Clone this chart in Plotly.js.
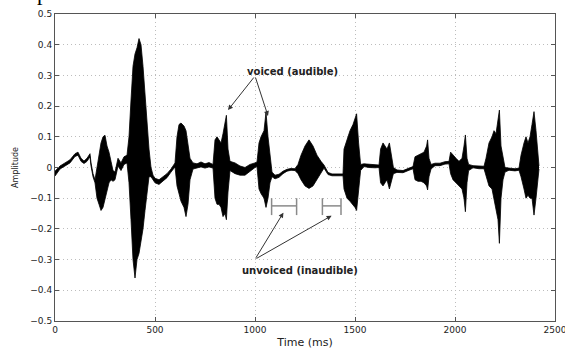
<!DOCTYPE html>
<html>
<head>
<meta charset="utf-8">
<script src="https://cdn.plot.ly/plotly-3.0.1.min.js"></script>
<style>html,body{margin:0;padding:0;background:#fff;}#chart{width:565px;height:351px;}</style>
</head>
<body>
<div id="chart"></div>
<script>
// Time axis (ms) and waveform envelope
const timeMs = [
  0,10,25,50,75,100,115,130,145,160,175,180,190,200,
  210,220,230,240,250,260,270,280,290,300,315,330,345,360,
  370,380,390,400,410,420,430,440,450,460,470,480,490,500,520,540,560,580,600,
  610,620,630,645,655,665,675,690,710,730,750,770,790,
  800,810,820,830,840,850,857,865,
  875,900,925,950,975,1000,1010,
  1020,1030,1045,1055,1065,1075,1085,1100,1120,1140,1160,1180,1200,
  1215,1230,1250,1270,1290,1310,1330,1345,1365,1385,1420,1440,
  1445,1460,1475,1490,1500,1508,1518,1528,
  1545,1570,1600,1620,
  1628,1640,1650,1660,1672,1682,1692,1710,1740,1770,1790,
  1800,1815,1830,1845,1858,1863,1870,1880,1900,1925,1950,1970,
  1978,1990,2005,2020,2035,2045,2052,2060,2068,2090,2120,2145,
  2155,2170,2185,2195,2205,2215,2222,2230,2240,2250,2270,2300,2320,
  2330,2345,2355,2365,2375,2385,2395,2405,2415,2420
];
const upperAmp = [
  -0.012,-0.006,0.005,0.015,0.025,0.045,0.05,0.03,0.021,0.03,0.045,0.015,-0.02,-0.04,
  0.0,0.05,0.08,0.1,0.105,0.07,0.05,0.02,-0.01,-0.015,0.03,0.015,0.035,0.04,
  0.1,0.22,0.33,0.37,0.39,0.42,0.4,0.33,0.24,0.14,0.06,0.0,-0.025,-0.035,-0.04,-0.03,-0.02,-0.005,0.015,
  0.1,0.14,0.145,0.135,0.12,0.08,0.03,0.015,0.012,0.018,0.012,0.016,0.01,
  0.09,0.1,0.09,0.08,0.11,0.15,0.17,0.06,
  0.02,0.015,0.005,0.0,0.01,0.015,0.018,
  0.08,0.1,0.12,0.18,0.1,0.04,-0.015,-0.025,-0.022,-0.012,-0.006,-0.003,-0.004,
  0.01,0.04,0.07,0.09,0.07,0.04,0.02,0.008,-0.016,-0.021,-0.021,-0.021,
  0.06,0.09,0.12,0.14,0.16,0.175,0.08,0.01,
  0.012,0.01,0.008,0.008,
  0.06,0.08,0.07,0.06,0.08,0.04,0.0,-0.008,-0.01,-0.002,0.003,
  0.035,0.04,0.045,0.05,0.07,0.09,0.03,0.01,0.014,0.014,0.019,0.02,
  0.05,0.04,0.03,0.02,0.03,0.07,0.106,0.03,0.01,0.006,0.004,0.004,
  0.03,0.08,0.1,0.12,0.11,0.15,0.187,0.07,0.03,0.0,-0.002,-0.004,-0.002,
  0.04,0.08,0.1,0.08,0.1,0.14,0.182,0.12,0.04,0.005
];
const lowerAmp = [
  -0.028,-0.018,-0.005,0.005,0.015,0.036,0.04,0.02,0.013,0.02,0.035,0.005,-0.03,-0.05,
  -0.1,-0.12,-0.14,-0.13,-0.1,-0.07,-0.05,-0.04,-0.045,-0.04,0.005,-0.01,0.01,0.015,
  -0.05,-0.17,-0.3,-0.36,-0.3,-0.28,-0.24,-0.2,-0.14,-0.08,-0.03,-0.03,-0.04,-0.05,-0.055,-0.045,-0.033,-0.015,0.002,
  -0.06,-0.09,-0.11,-0.13,-0.16,-0.12,-0.04,-0.005,-0.002,0.002,-0.002,0.002,-0.002,
  -0.1,-0.12,-0.12,-0.13,-0.16,-0.15,-0.17,-0.08,
  -0.01,-0.02,-0.025,-0.025,-0.012,0.0,0.003,
  -0.07,-0.085,-0.1,-0.13,-0.1,-0.05,-0.03,-0.037,-0.032,-0.02,-0.012,-0.009,-0.01,
  -0.02,-0.04,-0.06,-0.068,-0.06,-0.04,-0.02,-0.002,-0.023,-0.027,-0.027,-0.027,
  -0.07,-0.1,-0.11,-0.12,-0.13,-0.14,-0.08,-0.01,
  0.003,0.0,-0.001,0.0,
  -0.05,-0.06,-0.05,-0.04,-0.07,-0.04,-0.02,-0.016,-0.017,-0.009,-0.004,
  -0.04,-0.045,-0.045,-0.05,-0.06,-0.073,-0.03,-0.005,0.006,0.006,0.011,0.012,
  -0.02,-0.04,-0.05,-0.06,-0.07,-0.1,-0.144,-0.05,-0.01,-0.001,-0.004,-0.004,
  -0.03,-0.06,-0.07,-0.1,-0.13,-0.17,-0.247,-0.1,-0.04,-0.015,-0.009,-0.011,-0.009,
  -0.03,-0.07,-0.1,-0.09,-0.1,-0.1,-0.155,-0.1,-0.04,-0.005
];

// Axis ticks
const xTicks = [0, 500, 1000, 1500, 2000, 2500];
const yTicks = [-0.5, -0.4, -0.3, -0.2, -0.1, 0, 0.1, 0.2, 0.3, 0.4, 0.5];

// Annotation texts and targets
const voicedLabel = "voiced (audible)";
const voicedLabelPos = [1185, 0.314];
const voicedTail = [1000, 0.298];
const voicedTargets = [[865, 0.187], [1065, 0.168]];

const unvoicedLabel = "unvoiced (inaudible)";
const unvoicedLabelPos = [1225, -0.337];
const unvoicedTail = [1000, -0.299];
const unvoicedTargets = [[1142, -0.147], [1383, -0.157]];

// Unvoiced segments (brackets), ms
const unvoicedStart = [1083, 1337];
const unvoicedEnd = [1208, 1430];
const bracketLevel = -0.125, bracketTop = -0.1, bracketBottom = -0.155;

const traces = [
  {x: timeMs, y: lowerAmp, type: 'scatter', mode: 'lines',
   line: {color: '#000', width: 0.8}, hoverinfo: 'skip', showlegend: false},
  {x: timeMs, y: upperAmp, type: 'scatter', mode: 'lines', fill: 'tonexty',
   fillcolor: '#000', line: {color: '#000', width: 0.8}, hoverinfo: 'skip', showlegend: false}
];

const shapes = [];
unvoicedStart.forEach((s, i) => {
  const e = unvoicedEnd[i];
  const ln = {color: '#8a8a8a', width: 1.5};
  shapes.push({type: 'line', xref: 'x', yref: 'y', x0: s, x1: e, y0: bracketLevel, y1: bracketLevel, line: ln});
  shapes.push({type: 'line', xref: 'x', yref: 'y', x0: s, x1: s, y0: bracketTop, y1: bracketBottom, line: ln});
  shapes.push({type: 'line', xref: 'x', yref: 'y', x0: e, x1: e, y0: bracketTop, y1: bracketBottom, line: ln});
});

const boldFont = {family: 'DejaVu Sans', size: 10, color: '#222', weight: 'bold'};
const annotations = [
  {x: voicedLabelPos[0], y: voicedLabelPos[1], xref: 'x', yref: 'y', text: voicedLabel,
   showarrow: false, font: boldFont},
  {x: unvoicedLabelPos[0], y: unvoicedLabelPos[1], xref: 'x', yref: 'y', text: unvoicedLabel,
   showarrow: false, font: boldFont},
  {xref: 'paper', yref: 'paper', x: -0.04, y: 1.022, xanchor: 'left', yanchor: 'bottom',
   text: 'period.', showarrow: false, font: {family: 'Liberation Serif', size: 22, color: '#000'}}
];
voicedTargets.concat(unvoicedTargets).forEach((tg, i) => {
  const tail = i < 2 ? voicedTail : unvoicedTail;
  annotations.push({x: tg[0], y: tg[1], xref: 'x', yref: 'y', ax: tail[0], ay: tail[1],
    axref: 'x', ayref: 'y', text: '', showarrow: true, arrowhead: 2, arrowsize: 1,
    arrowwidth: 1, arrowcolor: '#333', standoff: 0, startstandoff: 0});
});

const axisCommon = {
  showline: true, linecolor: '#555', linewidth: 1, mirror: 'ticks',
  ticks: 'inside', ticklen: 4, tickcolor: '#555', tickwidth: 1,
  showgrid: true, gridcolor: '#bdbdbd', griddash: '1px,3px', gridwidth: 1,
  zeroline: false, ticklabeloverflow: 'allow',
  tickfont: {family: 'DejaVu Sans', size: 9, color: '#222'}
};

const layout = {
  width: 565, height: 351,
  margin: {l: 55, r: 10, t: 14, b: 30},
  paper_bgcolor: '#fff', plot_bgcolor: '#fff',
  xaxis: Object.assign({}, axisCommon, {
    range: [0, 2500], tickvals: xTicks, ticktext: xTicks.map(String),
    title: {text: 'Time (ms)', font: {family: 'DejaVu Sans', size: 11, color: '#222'}, standoff: 4}
  }),
  yaxis: Object.assign({}, axisCommon, {
    range: [-0.5, 0.5], tickvals: yTicks,
    title: {text: 'Amplitude', font: {family: 'DejaVu Sans', size: 8, color: '#222'}, standoff: 10}
  }),
  shapes: shapes,
  annotations: annotations,
  showlegend: false
};

Plotly.newPlot('chart', traces, layout, {displayModeBar: false, staticPlot: true});
</script>
</body>
</html>
